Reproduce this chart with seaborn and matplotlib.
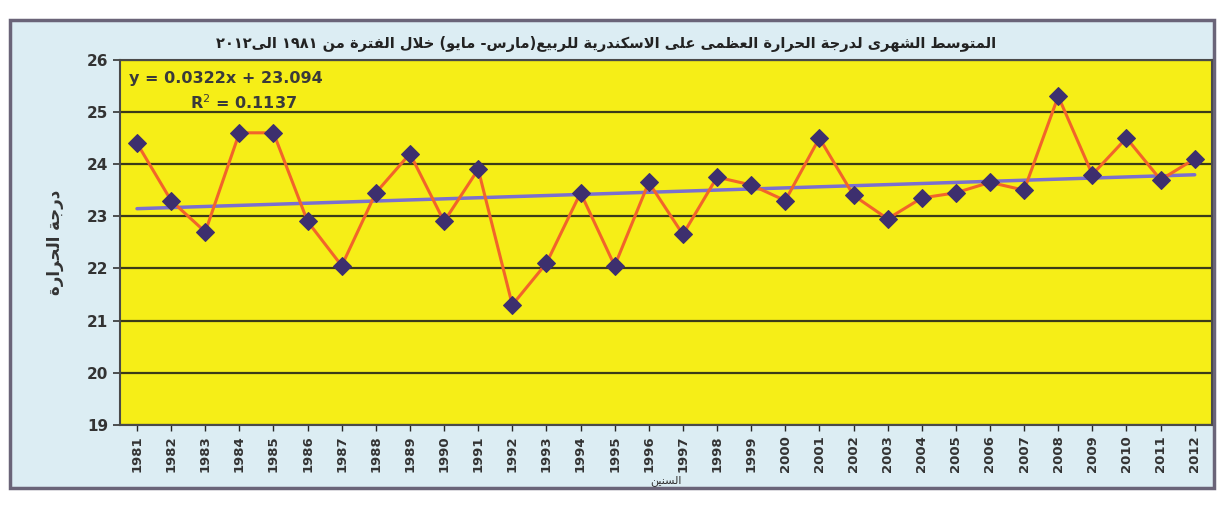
import re
import pandas as pd
import matplotlib
matplotlib.use("Agg")
import matplotlib.pyplot as plt
from matplotlib.patches import Rectangle
import seaborn as sns

# Spring (Mar-May) mean max temperature, Alexandria, 1981-2012
years = list(range(1981, 2013))
temps = [24.4, 23.3, 22.7, 24.6, 24.6, 22.9, 22.05, 23.45, 24.2, 22.9,
         23.9, 21.3, 22.1, 23.45, 22.05, 23.65, 22.65, 23.75, 23.6, 23.3,
         24.5, 23.4, 22.95, 23.35, 23.45, 23.65, 23.5, 25.3, 23.8, 24.5,
         23.7, 24.1]
y_ticks = [19, 20, 21, 22, 23, 24, 25, 26]

title_txt = "المتوسط الشهرى لدرجة الحرارة العظمى على الاسكندرية للربيع(مارس- مايو) خلال الفترة من ١٩٨١ الى٢٠١٢"
ylabel_txt = "درجة الحرارة"
xlabel_txt = "السنين"
eq_txt = "y = 0.0322x + 23.094"
r2_txt = "R$^2$ = 0.1137"

# matplotlib does no Arabic shaping, so use presentation forms + visual order
FORMS = {
    'ا': ('\uFE8D', '\uFE8E', None, None),
    'ب': ('\uFE8F', '\uFE90', '\uFE91', '\uFE92'),
    'ة': ('\uFE93', '\uFE94', None, None),
    'ت': ('\uFE95', '\uFE96', '\uFE97', '\uFE98'),
    'ج': ('\uFE9D', '\uFE9E', '\uFE9F', '\uFEA0'),
    'ح': ('\uFEA1', '\uFEA2', '\uFEA3', '\uFEA4'),
    'خ': ('\uFEA5', '\uFEA6', '\uFEA7', '\uFEA8'),
    'د': ('\uFEA9', '\uFEAA', None, None),
    'ر': ('\uFEAD', '\uFEAE', None, None),
    'س': ('\uFEB1', '\uFEB2', '\uFEB3', '\uFEB4'),
    'ش': ('\uFEB5', '\uFEB6', '\uFEB7', '\uFEB8'),
    'ط': ('\uFEC1', '\uFEC2', '\uFEC3', '\uFEC4'),
    'ظ': ('\uFEC5', '\uFEC6', '\uFEC7', '\uFEC8'),
    'ع': ('\uFEC9', '\uFECA', '\uFECB', '\uFECC'),
    'ف': ('\uFED1', '\uFED2', '\uFED3', '\uFED4'),
    'ك': ('\uFED9', '\uFEDA', '\uFEDB', '\uFEDC'),
    'ل': ('\uFEDD', '\uFEDE', '\uFEDF', '\uFEE0'),
    'م': ('\uFEE1', '\uFEE2', '\uFEE3', '\uFEE4'),
    'ن': ('\uFEE5', '\uFEE6', '\uFEE7', '\uFEE8'),
    'ه': ('\uFEE9', '\uFEEA', '\uFEEB', '\uFEEC'),
    'و': ('\uFEED', '\uFEEE', None, None),
    'ى': ('\uFEEF', '\uFEF0', None, None),
    'ي': ('\uFEF1', '\uFEF2', '\uFEF3', '\uFEF4'),
    'لا': ('\uFEFB', '\uFEFC', None, None),
}


def joins_next(c):
    return c in FORMS and FORMS[c][2] is not None


def rtl(text):
    tokens = []
    i = 0
    while i < len(text):
        if text[i] == 'ل' and i + 1 < len(text) and text[i + 1] == 'ا':
            tokens.append('لا')
            i += 2
        else:
            tokens.append(text[i])
            i += 1
    res = []
    for k, t in enumerate(tokens):
        if t not in FORMS:
            res.append(t)
            continue
        prev = tokens[k - 1] if k > 0 else ''
        nxt = tokens[k + 1] if k + 1 < len(tokens) else ''
        p = joins_next(prev)
        q = joins_next(t) and nxt in FORMS
        iso, fin, ini, med = FORMS[t]
        res.append(med if p and q else fin if p else ini if q else iso)
    s = ''.join(res[::-1])
    s = re.sub(r'[0-9\u0660-\u0669]+', lambda m: m.group(0)[::-1], s)
    return s.translate(str.maketrans('()', ')('))


df = pd.DataFrame({'year': years, 'temp': temps})

sns.set_style("ticks")
plt.rcParams['font.family'] = ['DejaVu Sans']

fig = plt.figure(figsize=(12.24, 5.2), dpi=100, facecolor='white')
fig.patches.append(Rectangle((0.008, 0.062), 0.984, 0.9, transform=fig.transFigure,
                             facecolor='#dcedf3', edgecolor='#6a6478', lw=2.5, zorder=-1))
ax = fig.add_axes([0.098, 0.183, 0.892, 0.702])
ax.set_facecolor('#f6ee17')

for yv in y_ticks:
    ax.axhline(yv, color='#3c3a18', lw=1.6, zorder=1)

sns.regplot(data=df, x='year', y='temp', ci=None, scatter=False, truncate=True,
            line_kws={'color': '#7a6fd0', 'lw': 2.5, 'zorder': 2}, ax=ax)
sns.lineplot(data=df, x='year', y='temp', color='#f2642a', lw=2.2, marker='D',
             markersize=9, markerfacecolor='#3d2f6e', markeredgecolor='#3d2f6e',
             zorder=3, ax=ax)

ax.set_xlim(1980.5, 2012.5)
ax.set_ylim(19, 26)
ax.set_yticks(y_ticks)
ax.set_xticks(years)
ax.set_xticklabels([str(y) for y in years], rotation=90, fontsize=9.5,
                   fontweight='bold', color='#333333')
ax.tick_params(axis='y', labelsize=11, colors='#333333', length=5, width=1.2)
for lab in ax.get_yticklabels():
    lab.set_fontweight('bold')
ax.tick_params(axis='x', length=4, width=1)
for sp in ['left', 'bottom', 'top', 'right']:
    ax.spines[sp].set_color('#4a4a4a')
    ax.spines[sp].set_linewidth(1.5)

ax.set_xlabel(rtl(xlabel_txt), fontsize=8, labelpad=2, color='#333333')
ax.set_ylabel(rtl(ylabel_txt), fontsize=12, fontweight='bold', color='#333333', labelpad=16)

ax.text(0.008, 0.95, eq_txt, transform=ax.transAxes, fontsize=11.5, fontweight='bold',
        color='#3a3a3a', va='center')
ax.text(0.064, 0.882, r2_txt, transform=ax.transAxes, fontsize=11.5, fontweight='bold',
        color='#3a3a3a', va='center')

fig.text(0.495, 0.915, rtl(title_txt), ha='center', va='center', fontsize=10.5,
         fontweight='bold', color='#222222')

fig.savefig("out.png", dpi=100, facecolor=fig.get_facecolor())
